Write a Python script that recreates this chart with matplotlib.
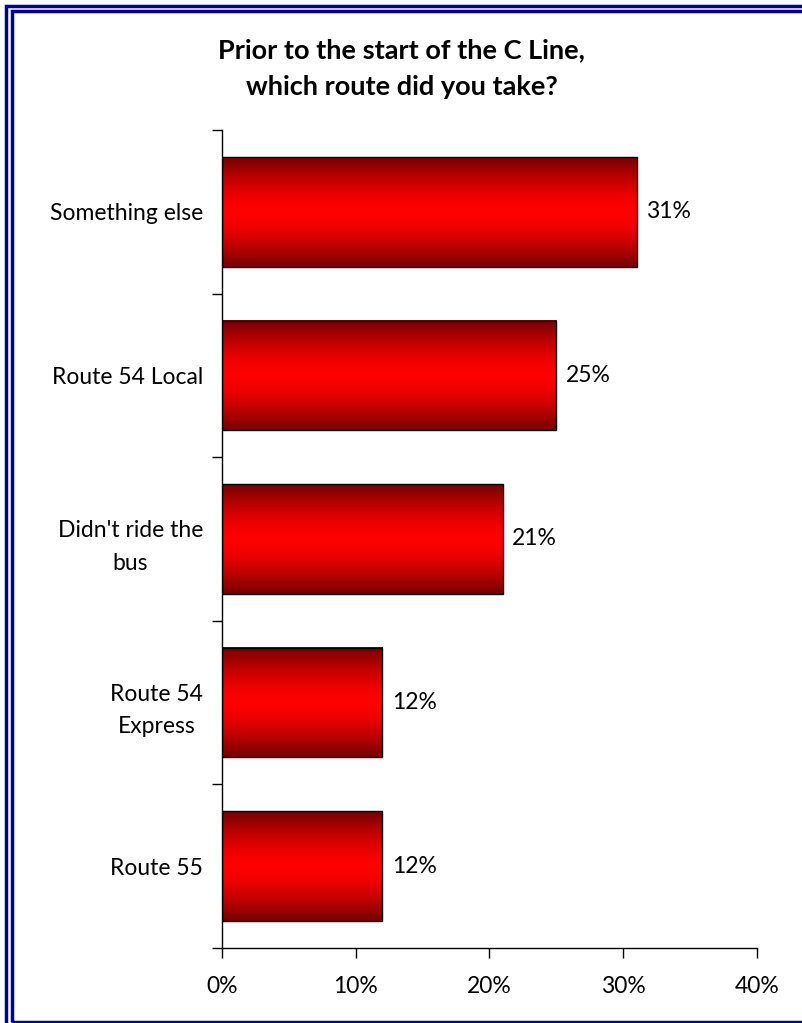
import numpy as np
import matplotlib.pyplot as plt
from matplotlib.patches import Rectangle

# Survey answers, top to bottom
routes = ["Something else", "Route 54 Local", "Didn't ride the\nbus", "Route 54\nExpress", "Route 55"]
shares = [0.31, 0.25, 0.21, 0.12, 0.12]
x_ticks = [0.0, 0.1, 0.2, 0.3, 0.4]
x_tick_labels = ["0%", "10%", "20%", "30%", "40%"]

plt.rcParams['font.family'] = ['Lato', 'DejaVu Sans']

fig = plt.figure(figsize=(8.03, 10.23), dpi=100)
ax = fig.add_axes([222 / 803, 1 - 948 / 1023, (757 - 222) / 803, (948 - 130) / 1023])

# vertical shading for each bar: dark red at the edges, bright red in the middle
t = np.linspace(-1, 1, 200)
w = 1 - np.abs(t) ** 1.6
dark = np.array([0.45, 0.0, 0.0])
bright = np.array([1.0, 0.0, 0.0])
grad = (dark[None, :] + (bright - dark)[None, :] * w[:, None])[:, None, :]

n = len(routes)
bar_h = 0.67
for i, (name, val) in enumerate(zip(routes, shares)):
    y = n - 1 - i
    y0, y1 = y - bar_h / 2, y + bar_h / 2
    ax.imshow(grad, extent=(0, val, y0, y1), aspect='auto', origin='upper', zorder=2)
    ax.add_patch(Rectangle((0, y0), val, bar_h, facecolor='none', edgecolor='black',
                           linewidth=1, zorder=3))
    ax.text(val + 0.007, y, f"{val * 100:.0f}%", va='center', ha='left', fontsize=16.5)

ax.set_xlim(0, 0.4)
ax.set_ylim(-0.5, n - 0.5)
ax.set_xticks(x_ticks)
ax.set_xticklabels(x_tick_labels, fontsize=16.5)
ax.set_yticks([y - 0.5 for y in range(n + 1)])
ax.set_yticklabels([])
ax.set_yticks(range(n), minor=True)
ax.set_yticklabels(routes[::-1], minor=True, fontsize=16.5, multialignment='center',
                   linespacing=1.7)
ax.tick_params(axis='y', which='minor', length=0, pad=13.5)
ax.tick_params(axis='y', which='major', length=7, width=1, direction='out')
ax.tick_params(axis='x', length=7, width=1, direction='out', pad=13.5)
for s in ['top', 'right']:
    ax.spines[s].set_visible(False)
ax.spines['left'].set_linewidth(1)
ax.spines['bottom'].set_linewidth(1)

fig.text(0.5, 1 - 68.5 / 1023, "Prior to the start of the C Line,\nwhich route did you take?",
         ha='center', va='center', fontsize=19.5, fontweight='bold', linespacing=1.67)

# double frame around the chart
blue = '#000099'
fig.patches.append(Rectangle((6.5 / 803, -0.05), 1.2, 1 - 6 / 1023 + 0.05,
                             transform=fig.transFigure, fill=False, edgecolor=blue, linewidth=2.5))
fig.patches.append(Rectangle((12.5 / 803, 1 - 1021.5 / 1023), 1.2, (1021.5 - 10.5) / 1023,
                             transform=fig.transFigure, fill=False, edgecolor=blue, linewidth=2.5))

fig.savefig("out.png", dpi=100)
